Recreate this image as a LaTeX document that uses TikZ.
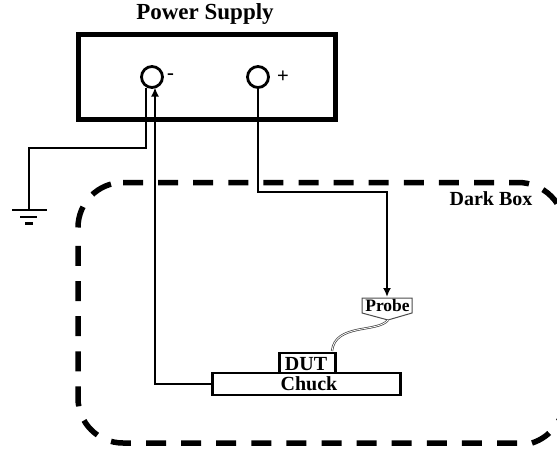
\documentclass[tikz,border=0pt]{standalone}
\usepackage{fontspec}
\setmainfont{Liberation Serif}
\newfontfamily\signfont{Liberation Sans}
\usetikzlibrary{arrows.meta}
\tikzset{
  x=1pt,y=-1pt,
  wire/.style={line width=2.6pt,black},
  arrowwire/.style={wire,-{Latex[length=9pt,width=8pt]}},
  terminal/.style={circle,draw,line width=2.8pt,minimum size=21pt,inner sep=0pt,outer sep=0pt},
  boxdash/.style={line width=5.5pt,black,dash pattern=on 20pt off 15.1pt},
  solidbox/.style={draw,line width=2.8pt,fill=white,inner sep=0pt,outer sep=0pt},
  lab/.style={font=\bfseries,inner sep=0pt},
}
\begin{document}
\begin{tikzpicture}
\useasboundingbox (0,0) rectangle (557,450);
\clip (0,0) rectangle (557,450);
% dark box
\draw[boxdash,dash pattern=on 21.5pt off 15.5pt] (78,227.5) arc[start angle=180,end angle=270,radius=45] -- (124,182.5);
\draw[boxdash] (123,182.5) -- (518,182.5) arc[start angle=270,end angle=360,radius=47];
\draw[boxdash] (517,443) -- (123,443) arc[start angle=90,end angle=180,radius=45] -- (78,245);
\draw[boxdash] (532,443) arc[start angle=72,end angle=0,radius=47] ;
% power supply
\node[draw,line width=5pt,minimum width=257.5pt,minimum height=85pt,inner sep=0pt,outer sep=0pt,anchor=north west] (ps) at (78,34.5) {};
\node[lab,font=\bfseries\fontsize{23}{23}\selectfont] (pstitle) at (205,14.5) {Power Supply};
\node[terminal] (neg) at (152,77) {};
\node[terminal] (pos) at (258,77) {};
\node[inner sep=0pt,font=\signfont\fontsize{22}{22}\selectfont] (minus) at (170.5,77) {-};
\node[inner sep=0pt,font=\signfont\fontsize{20}{20}\selectfont] (plus) at (283,77) {+};
% chuck, DUT, probe
\node[solidbox,minimum width=56pt,minimum height=20pt,anchor=north west] (dut) at (279.5,353) {};
\node[lab,font=\bfseries\fontsize{20}{20}\selectfont] (dutlab) at (306,364) {DUT};
\node[solidbox,minimum width=188pt,minimum height=22pt,anchor=north west] (chuck) at (212.5,373) {};
\node[lab,font=\bfseries\fontsize{20}{20}\selectfont] (chucklab) at (309,384) {Chuck};
\coordinate (pa) at (362,298);
\coordinate (pb) at (412,298);
\coordinate (pc) at (412,313);
\coordinate (ptip) at (388,320);
\coordinate (pd) at (362,313);
\draw[line width=1pt,black!70,fill=white] (pa) -- (pb) -- (pc) -- (ptip) -- (pd) -- cycle;
\node[lab,font=\bfseries\fontsize{17.5}{17.5}\selectfont] (probe) at (387.5,306) {Probe};
% probe cable
\coordinate (cableend) at (332,351);
\draw[line width=2.2pt,black!75] (ptip) .. controls (378,333) and (335,323) .. (cableend);
\draw[line width=0.8pt,white] (ptip) .. controls (378,333) and (335,323) .. (cableend);
% ground
\coordinate (gndtop) at (146,88);
\coordinate (gnd) at (29,210);
\coordinate (g1a) at (12,210); \coordinate (g1b) at (47,210);
\coordinate (g2a) at (20,217); \coordinate (g2b) at (37,217);
\coordinate (g3a) at (25,223.5); \coordinate (g3b) at (33,223.5);
\draw[wire] (gndtop) -- (146,148) -- (29,148) -- (gnd);
\draw[line width=2.8pt] (g1a) -- (g1b);
\draw[line width=2.8pt] (g2a) -- (g2b);
\draw[line width=2.8pt] (g3a) -- (g3b);
% wires
\coordinate (retcorner) at (155,384);
\coordinate (rettip) at (155,87.5);
\draw[arrowwire] (chuck.west) -- (retcorner) -- (rettip);
\draw[arrowwire] (pos.south) -- (258,192) -- (387,192) -- (387,297);
% dark box label
\node[lab,font=\bfseries\fontsize{20}{20}\selectfont] (dark) at (491,199) {Dark Box};
\end{tikzpicture}
\end{document}
